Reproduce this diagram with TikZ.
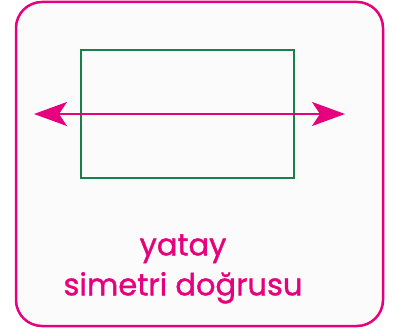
\documentclass[tikz,border=0pt]{standalone}
\usepackage{fontspec}
\setmainfont{Poppins}[FakeBold=1.2]
\usetikzlibrary{arrows.meta}
\definecolor{mag}{HTML}{E6007E}
\definecolor{grn}{HTML}{1A7F4B}
\begin{document}
\begin{tikzpicture}[x=1pt,y=-1pt,
  frame/.style={draw=mag,line width=2.5pt,rounded corners=26pt,fill=black!1.5},
  box/.style={draw=grn,line width=2.2pt},
  axis/.style={draw=mag,line width=2pt,{Stealth[length=33pt,width=24pt,inset=8pt]}-{Stealth[length=33pt,width=24pt,inset=8pt]}},
  lbl/.style={text=mag,font=\fontsize{30.5}{40}\selectfont,align=center}]
\useasboundingbox (0,0) rectangle (393,329);
\path[frame] (16,2) rectangle (383,326);
\path[box] (81,50) rectangle (294,178);
\coordinate (L) at (34,114);
\coordinate (R) at (345,114);
\draw[axis] (L) -- (R);
\node[lbl] (t) at (183,269) {yatay\\simetri doğrusu};
\end{tikzpicture}
\end{document}
